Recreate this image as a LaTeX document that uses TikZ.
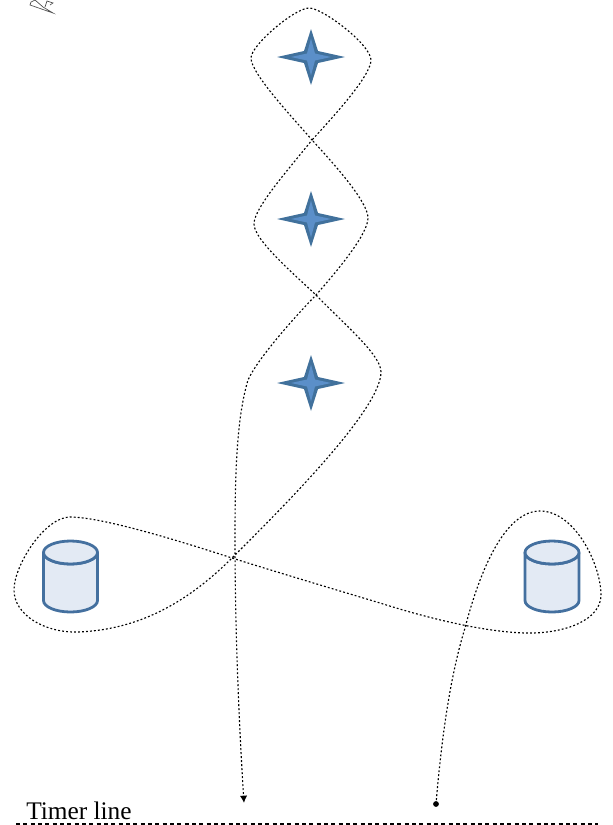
\documentclass[tikz,border=0pt]{standalone}
\usepackage{fontspec}
\setmainfont{Liberation Serif}
\usetikzlibrary{shapes.geometric,arrows.meta}
\tikzset{
  x=0.75pt,y=-0.75pt,
  anchorpt/.style={inner sep=0pt,minimum size=0pt},
  wire/.style={line width=0.85pt,dash pattern=on 1.4pt off 1.6pt,black},
  timer/.style={line width=1.4pt,dash pattern=on 3pt off 2.5pt},
  cyl/.style={draw=cylblue,line width=2.1pt,fill=cylfill,line join=round}
}
\definecolor{cylblue}{HTML}{44709F}
\definecolor{cylfill}{HTML}{E3EAF4}
\definecolor{stardark}{HTML}{41719C}
\definecolor{starlight}{HTML}{5B8FC9}
\newcommand{\fourstar}[1]{%
  \fill[stardark] (#1) ++(-34,0) -- ++(27,-6) -- ++(7,-22) -- ++(7,22) -- ++(27,6) -- ++(-27,6) -- ++(-7,22) -- ++(-7,-22) -- cycle;
  \fill[starlight] (#1) ++(-20,0) -- ++(16,-3.5) -- ++(4,-15) -- ++(4,15) -- ++(16,3.5) -- ++(-16,3.5) -- ++(-4,15) -- ++(-4,-15) -- cycle;
}
\newcommand{\dbcyl}[1]{%
  \draw[cyl] (#1) ++(-27,-24) -- ++(0,48) arc[start angle=180,end angle=0,x radius=27,y radius=11.5] -- ++(0,-48) arc[start angle=0,end angle=180,x radius=27,y radius=11.5] -- cycle;
  \draw[cyl] (#1) ++(27,-24) arc[start angle=0,end angle=360,x radius=27,y radius=11.5];
}
\begin{document}
\begin{tikzpicture}
\useasboundingbox (0,0) rectangle (613,825);
\begin{scope}
\clip (0,0) rectangle (613,825);
\draw[line width=0.5pt,black!70,fill=white] (31,2) -- (30,5) -- (53,13) -- (43,7) -- (35,0) -- cycle;
\draw[line width=0.5pt,black!70] (45,7) -- (47,1) -- (53,3) -- (50,5);
\end{scope}
\node[anchorpt] (s1) at (311,57) {}; \fourstar{s1}
\node[anchorpt] (s2) at (311,219) {}; \fourstar{s2}
\node[anchorpt] (s3) at (311,383) {}; \fourstar{s3}
\node[anchorpt] (c1) at (70.5,576.5) {}; \dbcyl{c1}
\node[anchorpt] (c2) at (552,576.5) {}; \dbcyl{c2}
\coordinate (start) at (436,804);
\coordinate (finish) at (244,803);
\coordinate (a) at (465,628);
\coordinate (x) at (232,558);
\coordinate (t) at (316,295);
\coordinate (m) at (312,140);
\fill (start) circle (2.9);
\draw[wire,-{Latex[length=5.5pt,width=5.5pt]}] (start)
  .. controls (441,745) and (449,680) .. (a)
  .. controls (480,570) and (505,511) .. (540,511)
  .. controls (575,511) and (601,565) .. (601,595)
  .. controls (601,620) and (565,634) .. (525,633)
  .. controls (490,632) and (440,622) .. (380,603)
  .. controls (320,585) and (270,570) .. (x)
  .. controls (195,546) and (105,517) .. (70,517)
  .. controls (45,517) and (14,565) .. (14,590)
  .. controls (14,615) and (45,633) .. (78,632)
  .. controls (130,630) and (180,610) .. (x)
  .. controls (280,510) and (381,410) .. (381,372)
  .. controls (381,355) and (345,325) .. (t)
  .. controls (295,275) and (254,240) .. (254,224)
  .. controls (254,208) and (288,170) .. (m)
  .. controls (295,120) and (251,74) .. (251,58)
  .. controls (251,45) and (295,8) .. (309,8)
  .. controls (323,8) and (371,45) .. (371,60)
  .. controls (371,76) and (332,118) .. (m)
  .. controls (335,165) and (368,202) .. (368,218)
  .. controls (368,234) and (338,270) .. (t)
  .. controls (290,322) and (257,360) .. (248,380)
  .. controls (236,420) and (235,480) .. (235,540)
  .. controls (235,640) and (240,740) .. (finish);
\node[anchor=base west,inner sep=0pt,font=\fontsize{19pt}{21pt}\selectfont] (lab) at (26,819) {Timer line};
\coordinate (tl0) at (16,824);
\coordinate (tl1) at (598,824);
\draw[timer] (tl0) -- (tl1);
\end{tikzpicture}
\end{document}
